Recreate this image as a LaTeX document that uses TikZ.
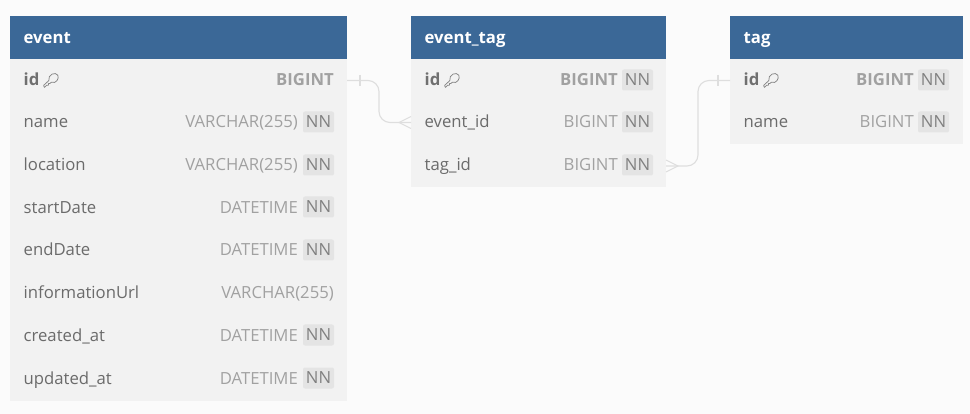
\documentclass[tikz,border=0pt]{standalone}
\usepackage{fontspec}
\setmainfont{Open Sans}
\definecolor{pagebg}{HTML}{FBFBFB}
\definecolor{bodybg}{HTML}{F2F2F2}
\definecolor{headbg}{HTML}{3B6897}
\definecolor{badgebg}{HTML}{E4E4E4}
\definecolor{relline}{HTML}{DEDEDE}
\newcommand{\rowfont}{\fontsize{16.7}{19}\selectfont}
\tikzset{
	tablehead/.style={rectangle, anchor=north west, fill=headbg, inner sep=0pt, minimum height=43pt},
	tablebody/.style={rectangle, anchor=north west, fill=bodybg, inner sep=0pt},
	headname/.style={anchor=base west, inner sep=0pt, text=white, font=\rowfont\bfseries},
	colname/.style={anchor=base west, inner sep=0pt, text=black!58, font=\rowfont},
	keyname/.style={colname, text=black!56, font=\rowfont\bfseries},
	coltype/.style={anchor=base east, inner sep=0pt, text=black!37, font=\rowfont},
	keytype/.style={coltype, font=\rowfont\bfseries},
	nnbadge/.style={rectangle, rounded corners=2pt, fill=badgebg, text=black!50, inner sep=0pt, minimum width=31pt, minimum height=21pt, font=\rowfont},
	relation/.style={draw=relline, line width=1.1pt},
	keyicon/.pic={
		\draw[black!48, line width=0.75pt, line join=round] (-6.6,7.4) -- (-7.4,5.4) -- (-2.2,0.6) .. controls (-3.4,-5.6) and (4.6,-8.6) .. (6.8,-4.8) .. controls (8.6,-1.4) and (4.8,4.2) .. (0.4,2.2) -- (-1.2,3.6) -- (-2.6,3.6) -- (-2.6,5.2) -- (-4.4,5.2) -- cycle;
	}
}
\begin{document}
\begin{tikzpicture}[x=1pt, y=-1pt]
	\fill[pagebg] (0,0) rectangle (970,414);
	\useasboundingbox (0,0) rectangle (970,414);
	%Event table
	\node [tablebody, minimum width=337pt, minimum height=385pt] (eventBody) at (10,16) {};
	\node [tablehead, minimum width=337pt] (eventHead) at (10,16) {};
	\node [headname] (eventTitle) at (23.5,43.5) {event};
	\node [keyname] (eventId) at (23.5,86) {id};
	\pic at (51,80) {keyicon};
	\node [keytype] (eventIdType) at (334,86) {BIGINT};
	\node [colname] (eventName) at (23.5,128) {name};
	\node [coltype] (eventNameType) at (298,128) {VARCHAR(255)};
	\node [nnbadge] (eventNameNn) at (318.5,122) {NN};
	\node [colname] (eventLocation) at (23.5,171) {location};
	\node [coltype] (eventLocationType) at (298,171) {VARCHAR(255)};
	\node [nnbadge] (eventLocationNn) at (318.5,165) {NN};
	\node [colname] (eventStart) at (23.5,213.5) {startDate};
	\node [coltype] (eventStartType) at (298,213.5) {DATETIME};
	\node [nnbadge] (eventStartNn) at (318.5,207) {NN};
	\node [colname] (eventEnd) at (23.5,256) {endDate};
	\node [coltype] (eventEndType) at (298,256) {DATETIME};
	\node [nnbadge] (eventEndNn) at (318.5,250) {NN};
	\node [colname] (eventUrl) at (23.5,299) {informationUrl};
	\node [coltype] (eventUrlType) at (334,299) {VARCHAR(255)};
	\node [colname] (eventCreated) at (23.5,341.5) {created\_at};
	\node [coltype] (eventCreatedType) at (298,341.5) {DATETIME};
	\node [nnbadge] (eventCreatedNn) at (318.5,335) {NN};
	\node [colname] (eventUpdated) at (23.5,384) {updated\_at};
	\node [coltype] (eventUpdatedType) at (298,384) {DATETIME};
	\node [nnbadge] (eventUpdatedNn) at (318.5,378) {NN};
	%Join table
	\node [tablebody, minimum width=255pt, minimum height=171pt] (joinBody) at (411,16) {};
	\node [tablehead, minimum width=255pt] (joinHead) at (411,16) {};
	\node [headname] (joinTitle) at (424.5,43.5) {event\_tag};
	\node [keyname] (joinId) at (424.5,86) {id};
	\pic at (452,80) {keyicon};
	\node [keytype] (joinIdType) at (618,86) {BIGINT};
	\node [nnbadge] (joinIdNn) at (637.5,80) {NN};
	\node [colname] (joinEvent) at (424.5,128) {event\_id};
	\node [coltype] (joinEventType) at (618,128) {BIGINT};
	\node [nnbadge] (joinEventNn) at (637.5,122) {NN};
	\node [colname] (joinTag) at (424.5,171) {tag\_id};
	\node [coltype] (joinTagType) at (618,171) {BIGINT};
	\node [nnbadge] (joinTagNn) at (637.5,165) {NN};
	%Tag table
	\node [tablebody, minimum width=233pt, minimum height=128pt] (tagBody) at (730,16) {};
	\node [tablehead, minimum width=233pt] (tagHead) at (730,16) {};
	\node [headname] (tagTitle) at (743.5,43.5) {tag};
	\node [keyname] (tagId) at (743.5,86) {id};
	\pic at (771,80) {keyicon};
	\node [keytype] (tagIdType) at (914,86) {BIGINT};
	\node [nnbadge] (tagIdNn) at (933.5,80) {NN};
	\node [colname] (tagName) at (743.5,128) {name};
	\node [coltype] (tagNameType) at (914,128) {BIGINT};
	\node [nnbadge] (tagNameNn) at (933.5,122) {NN};
	%Relation event to event_tag
	\coordinate (eventOut) at (347,80.5);
	\coordinate (joinIn) at (411,122.5);
	\coordinate (eventBendA) at (379,80.5);
	\coordinate (eventBendB) at (379,122.5);
	\draw[relation, rounded corners=11pt] (eventOut) -- (eventBendA) -- (eventBendB) -- (joinIn);
	\draw[relation] (360,75) -- (360,86);
	\draw[relation] (411,116.5) -- (399,122.5) -- (411,128.5);
	%Relation tag to event_tag
	\coordinate (joinOut) at (666,166);
	\coordinate (tagIn) at (730,80.5);
	\coordinate (tagBendA) at (698,166);
	\coordinate (tagBendB) at (698,80.5);
	\draw[relation, rounded corners=11pt] (joinOut) -- (tagBendA) -- (tagBendB) -- (tagIn);
	\draw[relation] (718,75) -- (718,86);
	\draw[relation] (666,160) -- (678,166) -- (666,172);
\end{tikzpicture}
\end{document}
